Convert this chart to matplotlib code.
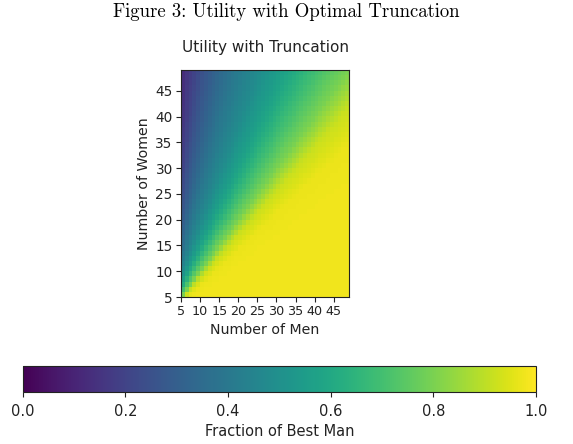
import numpy as np
import matplotlib
matplotlib.use("Agg")
import matplotlib.pyplot as plt

# values: fraction of best man vs. women/men ratio
ratio_pts = [0.5, 0.7, 0.85, 1.0, 1.2, 1.5, 2.0, 3.0, 4.0, 6.0, 10.0]
frac_pts = [0.98, 0.97, 0.92, 0.8, 0.7, 0.58, 0.47, 0.36, 0.29, 0.2, 0.12]

men = np.arange(5, 49)
women = np.arange(5, 49)
x_ticks = [5, 10, 15, 20, 25, 30, 35, 40, 45]
y_ticks = [5, 10, 15, 20, 25, 30, 35, 40, 45]
cbar_ticks = [0.0, 0.2, 0.4, 0.6, 0.8, 1.0]

M, W = np.meshgrid(men, women)
grid = np.interp(np.log(W / M), np.log(ratio_pts), frac_pts)

plt.rcParams['font.size'] = 10.2
plt.rcParams['axes.edgecolor'] = '#222222'
plt.rcParams['xtick.color'] = '#222222'
plt.rcParams['ytick.color'] = '#222222'
plt.rcParams['text.color'] = '#222222'
plt.rcParams['axes.labelcolor'] = '#222222'

fig = plt.figure(figsize=(5.73, 4.44), dpi=100)
ax = fig.add_axes([0.316, 0.331, 0.293, 0.511])
im = ax.imshow(grid, origin='lower', cmap='viridis', vmin=0, vmax=1,
               extent=[men[0], men[-1] + 1, women[0], women[-1] + 1],
               aspect='auto', interpolation='nearest')
ax.set_xticks(x_ticks)
ax.set_yticks(y_ticks)
ax.tick_params(axis='y', labelsize=9.8, pad=2.5)
ax.tick_params(axis='x', labelsize=9.2, pad=2.5)
ax.set_xlabel("Number of Men", labelpad=3)
ax.set_ylabel("Number of Women", labelpad=3)
ax.set_title("Utility with Truncation", fontsize=11, pad=13)

cax = fig.add_axes([0.040, 0.117, 0.895, 0.0586])
cb = fig.colorbar(im, cax=cax, orientation='horizontal', ticks=cbar_ticks)
cb.ax.tick_params(labelsize=10.5, pad=5)
cb.set_label("Fraction of Best Man", fontsize=10.5, labelpad=4)

fig.text(0.5, 0.972, "Figure 3: Utility with Optimal Truncation",
         ha='center', va='center', fontsize=13.5, family='cmr10', color='black')

fig.savefig("out.png", dpi=100)
